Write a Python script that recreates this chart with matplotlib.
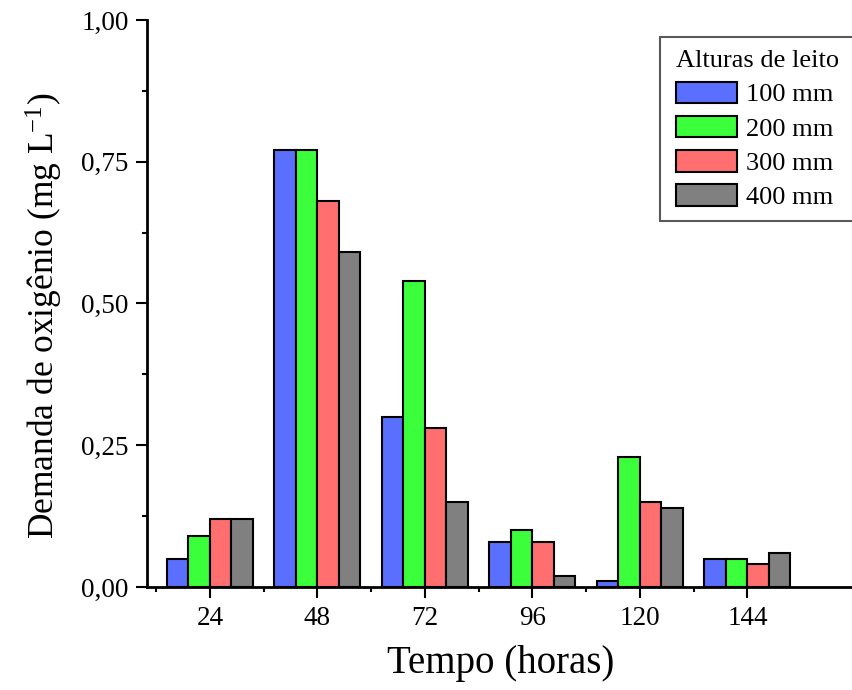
import numpy as np
import matplotlib
matplotlib.use("Agg")
import matplotlib.pyplot as plt
from matplotlib.patches import Rectangle
from matplotlib.ticker import MultipleLocator, FuncFormatter

plt.rcParams['font.family'] = ['Liberation Serif', 'DejaVu Serif']
plt.rcParams['mathtext.fontset'] = 'custom'
plt.rcParams['mathtext.rm'] = 'Liberation Serif'
plt.rcParams['mathtext.default'] = 'regular'

# data
tempo = ["24", "48", "72", "96", "120", "144"]
alturas = ["100 mm", "200 mm", "300 mm", "400 mm"]
h100 = [0.05, 0.77, 0.30, 0.08, 0.01, 0.05]
h200 = [0.09, 0.77, 0.54, 0.10, 0.23, 0.05]
h300 = [0.12, 0.68, 0.28, 0.08, 0.15, 0.04]
h400 = [0.12, 0.59, 0.15, 0.02, 0.14, 0.06]
series = [h100, h200, h300, h400]
colors = ["#5B6FFF", "#3AFF3A", "#FF6F6F", "#808080"]

W, H = 852, 690
fig = plt.figure(figsize=(W / 100, H / 100), dpi=100)
ax = fig.add_axes([146.5 / W, 103 / H, 708.5 / W, 567 / H])

x = np.arange(1, len(tempo) + 1)
bw = 0.2
for i, (vals, c, lab) in enumerate(zip(series, colors, alturas)):
    ax.bar(x + (i - 1.5) * bw, vals, width=bw, color=c, edgecolor="black",
           linewidth=1.5, label=lab, zorder=2)

ax.set_xlim(0.41, 7.0)
ax.set_ylim(0, 1.0)
ax.set_xticks(x)
ax.set_xticklabels(tempo)
ax.set_xticks(x - 0.5, minor=True)
ax.yaxis.set_major_locator(MultipleLocator(0.25))
ax.yaxis.set_minor_locator(MultipleLocator(0.125))
ax.yaxis.set_major_formatter(FuncFormatter(lambda v, p: f"{v:.2f}".replace(".", ",")))

for s in ["top", "right"]:
    ax.spines[s].set_visible(False)
for s in ["left", "bottom"]:
    ax.spines[s].set_linewidth(2)
ax.tick_params(axis="both", which="major", direction="out", length=7.8, width=1.5, labelsize=19.5)
ax.tick_params(axis="both", which="minor", direction="out", length=3.8, width=1.5)
ax.tick_params(axis="x", which="major", pad=6)
ax.tick_params(axis="y", which="major", pad=5)

ax.set_xlabel("Tempo (horas)", fontsize=28, labelpad=10)
ax.set_ylabel("Demanda de oxigênio (mg L$^{-1}$)", fontsize=25.5, labelpad=12)
ax.yaxis.label.set_y(0.478)

# legend box (runs off the right edge like the original)
box = Rectangle((660 / W, 1 - 221 / H), 210 / W, 184 / H, transform=fig.transFigure,
                facecolor="white", edgecolor="0.35", linewidth=1.5, zorder=4, clip_on=False)
ax.add_artist(box)

leg = ax.legend(title="Alturas de leito", loc="upper left",
                bbox_to_anchor=(676 / W, 1 - 50 / H), bbox_transform=fig.transFigure,
                borderaxespad=0, frameon=False,
                fontsize=19, title_fontsize=19, alignment="left",
                handlelength=2.3, handleheight=0.87, handletextpad=0.35,
                labelspacing=0.36, borderpad=0, fancybox=False)
leg.set_zorder(5)

fig.savefig("out.png", dpi=100)
